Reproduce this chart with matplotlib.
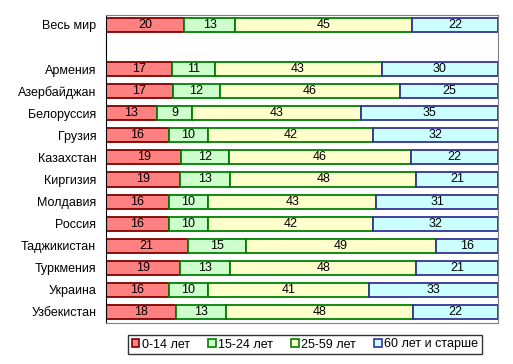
import matplotlib
matplotlib.use("Agg")
import matplotlib.pyplot as plt
from matplotlib.patches import Patch
import numpy as np

plt.rcParams['font.family'] = ['Liberation Sans', 'DejaVu Sans']

countries = ["Весь мир", "Армения", "Азербайджан", "Белоруссия", "Грузия", "Казахстан",
             "Киргизия", "Молдавия", "Россия", "Таджикистан", "Туркмения", "Украина", "Узбекистан"]
age_0_14 = [20, 17, 17, 13, 16, 19, 19, 16, 16, 21, 19, 16, 18]
age_15_24 = [13, 11, 12, 9, 10, 12, 13, 10, 10, 15, 13, 10, 13]
age_25_59 = [45, 43, 46, 43, 42, 46, 48, 43, 42, 49, 48, 41, 48]
age_60 = [22, 30, 25, 35, 32, 22, 21, 31, 32, 16, 21, 33, 22]
series_names = ["0-14 лет", "15-24 лет", "25-59 лет", "60 лет и старше"]

fills = ["#FF8080", "#CCFFCC", "#FFFFCC", "#CCFFFF"]
edges = ["#800000", "#008000", "#008000", "#333399"]

data = np.array([age_0_14, age_15_24, age_25_59, age_60], dtype=float)
totals = data.sum(axis=0)
pct = data / totals * 100

ypos = np.array([0] + list(range(2, 2 + len(countries) - 1)))

fig = plt.figure(figsize=(5.13, 3.64), dpi=100)
ax = fig.add_axes([106/513, 1-323/364, (498-106)/513, (323-15)/364])

left = np.zeros(len(countries))
for i in range(4):
    ax.barh(ypos, pct[i], left=left, height=0.64, color=fills[i], edgecolor=edges[i], linewidth=1.3)
    for j in range(len(countries)):
        ax.text(left[j] + pct[i][j]/2, ypos[j], f"{int(data[i][j])}", ha='center', va='center', fontsize=9, color='black')
    left += pct[i]

ax.set_xlim(0, 100)
ax.set_ylim(13.5, -0.45)
ax.set_yticks(ypos)
ax.set_yticklabels(countries, fontsize=9)
ax.set_xticks([])
ax.tick_params(axis='y', length=0, pad=7)
ax.spines['left'].set_color('black')
for s in ['top', 'right', 'bottom']:
    ax.spines[s].set_color('#808080')

handles = [Patch(facecolor=fills[i], edgecolor=edges[i], linewidth=1.2) for i in range(4)]
leg = fig.legend(handles, series_names, loc='center', bbox_to_anchor=(305/513, 1-344.5/364),
                 ncol=4, fontsize=9, frameon=True, fancybox=False, edgecolor='black',
                 handlelength=0.6, handleheight=0.6, handletextpad=0.2, columnspacing=1.45,
                 borderpad=0.3, borderaxespad=0)
leg.get_frame().set_linewidth(1.0)

fig.savefig("out.png", dpi=100)
